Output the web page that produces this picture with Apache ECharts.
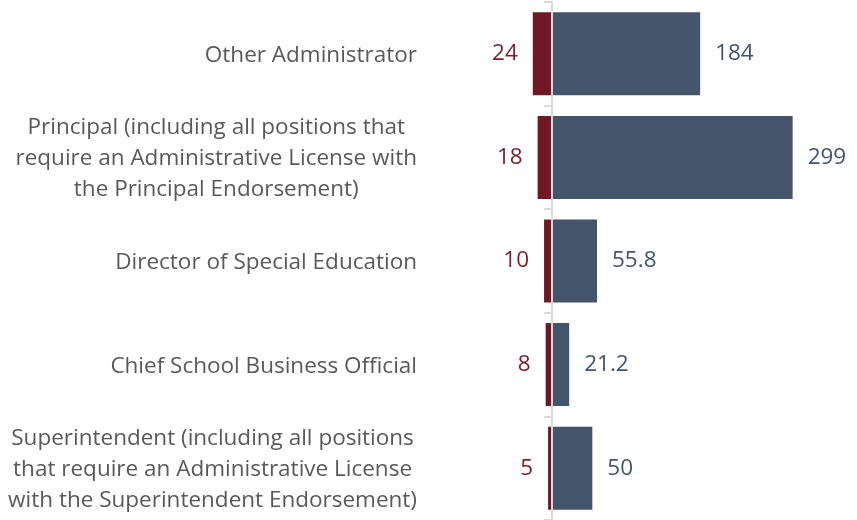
<!DOCTYPE html>
<html>
<head>
<meta charset="utf-8">
<script src="https://cdn.jsdelivr.net/npm/echarts@6/dist/echarts.min.js"></script>
<style>
html, body { margin: 0; padding: 0; background: #fff; }
#chart { width: 857px; height: 520px; }
</style>
</head>
<body>
<div id="chart"></div>
<script>
var categories = [
    'Other Administrator',
    'Principal (including all positions that\nrequire an Administrative License with\nthe Principal Endorsement)',
    'Director of Special Education',
    'Chief School Business Official',
    'Superintendent (including all positions\nthat require an Administrative License\nwith the Superintendent Endorsement)'
];
var leftValues = [24, 18, 10, 8, 5];
var rightValues = [184, 299, 55.8, 21.2, 50];

var myChart = echarts.init(document.getElementById('chart'));

var font = '"Open Sans", sans-serif';

var option = {
    animation: false,
    grid: [
        { left: 425, right: 0, top: 2, bottom: 0, outerBoundsMode: 'none' },
        // second grid only to draw the zero line with its ticks
        { left: 552, right: 0, top: 2, bottom: 0, outerBoundsMode: 'none' }
    ],
    xAxis: [
        { type: 'value', gridIndex: 0, min: -158, max: 379, show: false },
        { type: 'value', gridIndex: 1, min: 0, max: 100, show: false }
    ],
    yAxis: [
        {
            type: 'category',
            gridIndex: 0,
            inverse: true,
            data: categories,
            axisLine: { show: false },
            axisTick: { show: false },
            axisLabel: {
                margin: 8,
                formatter: function (v) { return '{a|' + v + '}'; },
                rich: {
                    a: {
                        align: 'center',
                        fontFamily: font,
                        fontSize: 22.5,
                        lineHeight: 31,
                        padding: [3, 0, 0, 0],
                        color: '#595959'
                    }
                }
            }
        },
        {
            type: 'category',
            gridIndex: 1,
            inverse: true,
            data: categories,
            z: 5,
            axisLine: { lineStyle: { color: '#d9d9d9', width: 2 } },
            axisTick: { show: true, length: 8, lineStyle: { color: '#d9d9d9', width: 2 } },
            axisLabel: { show: false }
        }
    ],
    series: [
        {
            name: 'left',
            type: 'bar',
            stack: 'all',
            barWidth: 83,
            data: leftValues.map(function (v) { return -v; }),
            itemStyle: { color: '#6f1722' },
            label: {
                show: true,
                position: 'left',
                distance: 15,
                padding: [4, 0, 0, 0],
                fontFamily: font,
                fontSize: 22.5,
                color: '#7b1e2b',
                formatter: function (p) { return Math.abs(p.value); }
            }
        },
        {
            name: 'right',
            type: 'bar',
            stack: 'all',
            barWidth: 83,
            data: rightValues,
            itemStyle: { color: '#44546a' },
            label: {
                show: true,
                position: 'right',
                distance: 15,
                padding: [4, 0, 0, 0],
                fontFamily: font,
                fontSize: 22.5,
                color: '#44546a'
            }
        }
    ]
};

myChart.setOption(option);
</script>
</body>
</html>
